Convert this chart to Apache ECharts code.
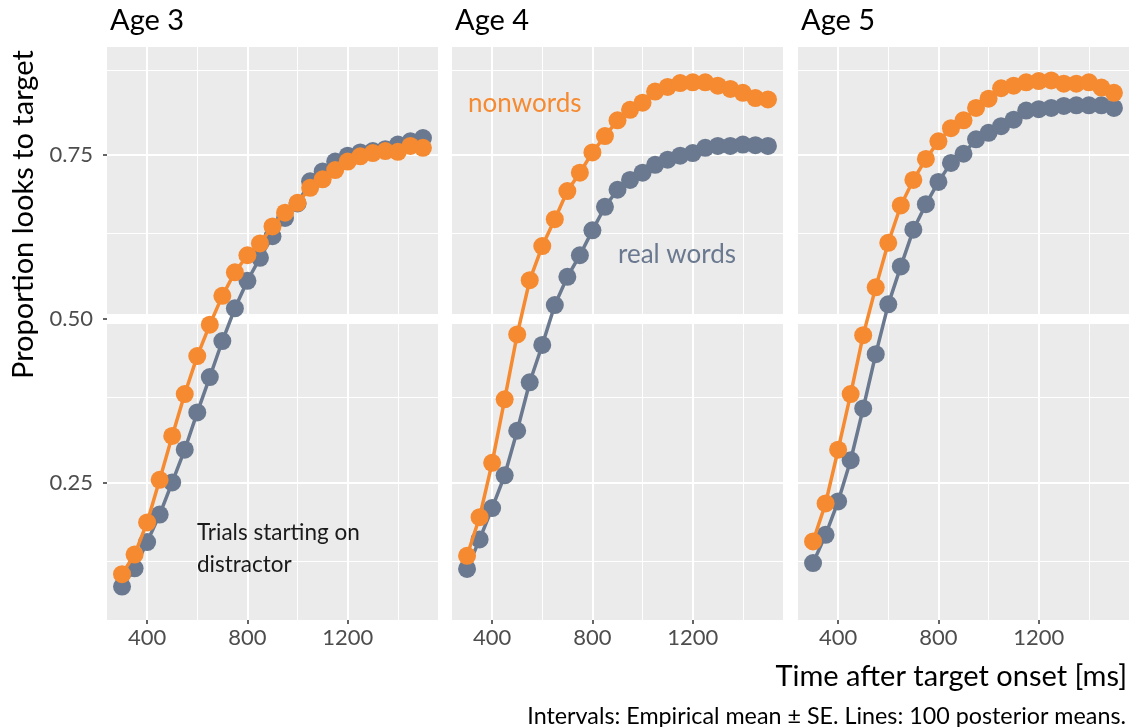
<!DOCTYPE html>
<html>
<head>
<meta charset="utf-8">
<script src="https://cdn.jsdelivr.net/npm/echarts@6/dist/echarts.min.js"></script>
<style>
  html, body { margin: 0; padding: 0; background: #fff; }
  #chart { width: 1133px; height: 727px; }
</style>
</head>
<body>
<div id="chart"></div>
<script>
// Time bins (ms after target onset)
const times = [300, 350, 400, 450, 500, 550, 600, 650, 700, 750, 800, 850, 900,
               950, 1000, 1050, 1100, 1150, 1200, 1250, 1300, 1350, 1400, 1450, 1500];

// Proportion of looks to target, per age group and word type
const age3Real = [0.091, 0.119, 0.159, 0.201, 0.250, 0.300, 0.357, 0.411, 0.466, 0.516, 0.558, 0.593, 0.626,
                  0.654, 0.676, 0.710, 0.725, 0.740, 0.749, 0.754, 0.756, 0.759, 0.766, 0.771, 0.776];
const age3Non  = [0.110, 0.140, 0.189, 0.254, 0.321, 0.385, 0.443, 0.491, 0.535, 0.571, 0.597, 0.615, 0.641,
                  0.662, 0.677, 0.700, 0.713, 0.727, 0.740, 0.748, 0.753, 0.756, 0.755, 0.764, 0.761];
const age4Real = [0.118, 0.163, 0.211, 0.261, 0.329, 0.403, 0.460, 0.521, 0.564, 0.597, 0.635, 0.671, 0.697,
                  0.712, 0.723, 0.735, 0.743, 0.749, 0.753, 0.761, 0.764, 0.764, 0.766, 0.765, 0.764];
const age4Non  = [0.138, 0.197, 0.280, 0.377, 0.476, 0.559, 0.611, 0.652, 0.695, 0.723, 0.754, 0.779, 0.803,
                  0.819, 0.830, 0.847, 0.854, 0.860, 0.861, 0.861, 0.856, 0.851, 0.845, 0.837, 0.835];
const age5Real = [0.127, 0.170, 0.221, 0.284, 0.363, 0.446, 0.522, 0.580, 0.636, 0.675, 0.709, 0.738, 0.752,
                  0.774, 0.784, 0.794, 0.804, 0.818, 0.820, 0.822, 0.825, 0.826, 0.826, 0.826, 0.822];
const age5Non  = [0.160, 0.218, 0.300, 0.385, 0.475, 0.548, 0.616, 0.673, 0.712, 0.744, 0.771, 0.791, 0.803,
                  0.822, 0.836, 0.852, 0.856, 0.861, 0.863, 0.864, 0.859, 0.859, 0.861, 0.853, 0.845];

const panelTitles = ['Age 3', 'Age 4', 'Age 5'];
const xTicks = [400, 800, 1200];
const xMinor = [600, 1000, 1400];
const yTicks = [0.25, 0.50, 0.75];
const yMinor = [0.125, 0.375, 0.625, 0.875];
const refLine = 0.5;

const realByAge = [age3Real, age4Real, age5Real];
const nonByAge  = [age3Non, age4Non, age5Non];

const ORANGE = '#F58A31';
const GRAY = '#6A798F';
const FONT = 'Lato';

const panelLeft = [107, 452, 798];
const panelWidth = 331;
const panelTop = 47;
const panelHeight = 573;

const grids = [], xAxes = [], yAxes = [], series = [];

function pairs(vals) { return times.map((t, i) => [t, vals[i]]); }

for (let p = 0; p < 3; p++) {
  grids.push({
    left: panelLeft[p], top: panelTop, width: panelWidth, height: panelHeight,
    show: true, backgroundColor: '#EBEBEB', borderWidth: 0
  });
  xAxes.push({
    gridIndex: p, type: 'value', min: 240, max: 1560,
    splitLine: { show: false },
    axisLine: { show: false },
    axisTick: { show: true, customValues: xTicks, length: 4, lineStyle: { color: '#333', width: 1.5 } },
    axisLabel: {
      customValues: xTicks, color: '#4D4D4D', fontFamily: FONT, fontSize: 22, margin: 7,
      formatter: v => String(v)
    }
  });
  yAxes.push({
    gridIndex: p, type: 'value', min: 0.04, max: 0.915,
    splitLine: { show: false },
    axisLine: { show: false },
    axisTick: { show: p === 0, customValues: yTicks, length: 4, lineStyle: { color: '#333', width: 1.5 } },
    axisLabel: {
      show: p === 0, customValues: yTicks, color: '#4D4D4D', fontFamily: FONT, fontSize: 22, margin: 14,
      formatter: v => v.toFixed(2)
    }
  });

  // panel gridlines and the 0.5 reference band
  const lines = [];
  xMinor.forEach(v => lines.push({ xAxis: v, lineStyle: { width: 1 } }));
  xTicks.forEach(v => lines.push({ xAxis: v, lineStyle: { width: 2 } }));
  yMinor.forEach(v => lines.push({ yAxis: v, lineStyle: { width: 1 } }));
  yTicks.filter(v => v !== refLine).forEach(v => lines.push({ yAxis: v, lineStyle: { width: 2 } }));
  lines.push({ yAxis: refLine, lineStyle: { width: 10 } });
  series.push({
    type: 'line', xAxisIndex: p, yAxisIndex: p, data: [], z: 1, silent: true,
    markLine: {
      z: 1,
      silent: true, symbol: 'none', animation: false,
      label: { show: false },
      lineStyle: { color: '#FFFFFF', type: 'solid' },
      emphasis: { disabled: true },
      data: lines
    }
  });

  series.push({
    name: 'real words', type: 'line', xAxisIndex: p, yAxisIndex: p, z: 3,
    data: pairs(realByAge[p]),
    symbol: 'circle', symbolSize: 18, showSymbol: true,
    itemStyle: { color: GRAY },
    lineStyle: { color: GRAY, width: 3.5 },
    animation: false
  });
  series.push({
    name: 'nonwords', type: 'line', xAxisIndex: p, yAxisIndex: p, z: 4,
    data: pairs(nonByAge[p]),
    symbol: 'circle', symbolSize: 18, showSymbol: true,
    itemStyle: { color: ORANGE },
    lineStyle: { color: ORANGE, width: 3.5 },
    animation: false
  });
}

const graphics = panelTitles.map((t, p) => ({
  type: 'text', left: panelLeft[p] + 3, top: 6, z: 10,
  style: { text: t, fill: '#000', font: '29px ' + FONT }
}));
graphics.push(
  { type: 'text', left: 468, top: 91, z: 10, style: { text: 'nonwords', fill: ORANGE, font: '26px ' + FONT } },
  { type: 'text', left: 618, top: 242, z: 10, style: { text: 'real words', fill: GRAY, font: '26px ' + FONT } },
  { type: 'text', left: 197, top: 517, z: 10, style: { text: 'Trials starting on\ndistractor', fill: '#1A1A1A', font: '22.5px ' + FONT, lineHeight: 32 } },
  { type: 'text', right: 6, top: 662, z: 10, style: { text: 'Time after target onset [ms]', fill: '#000', font: '29px ' + FONT } },
  { type: 'text', right: 7, top: 705, z: 10, style: { text: 'Intervals: Empirical mean \u00B1 SE. Lines: 100 posterior means.', fill: '#000', font: '23.3px ' + FONT } },
  // y-axis title, reading bottom-to-top, aligned to the panel top
  { type: 'text', x: 24, y: 379, rotation: Math.PI / 2, z: 10,
    style: { text: 'Proportion looks to target', fill: '#000', font: '29px ' + FONT, textAlign: 'left', textVerticalAlign: 'middle' } }
);

const chart = echarts.init(document.getElementById('chart'), null, { renderer: 'canvas' });
chart.setOption({
  animation: false,
  backgroundColor: '#FFFFFF',
  textStyle: { fontFamily: FONT },
  grid: grids,
  xAxis: xAxes,
  yAxis: yAxes,
  series: series,
  graphic: graphics
});
</script>
</body>
</html>
